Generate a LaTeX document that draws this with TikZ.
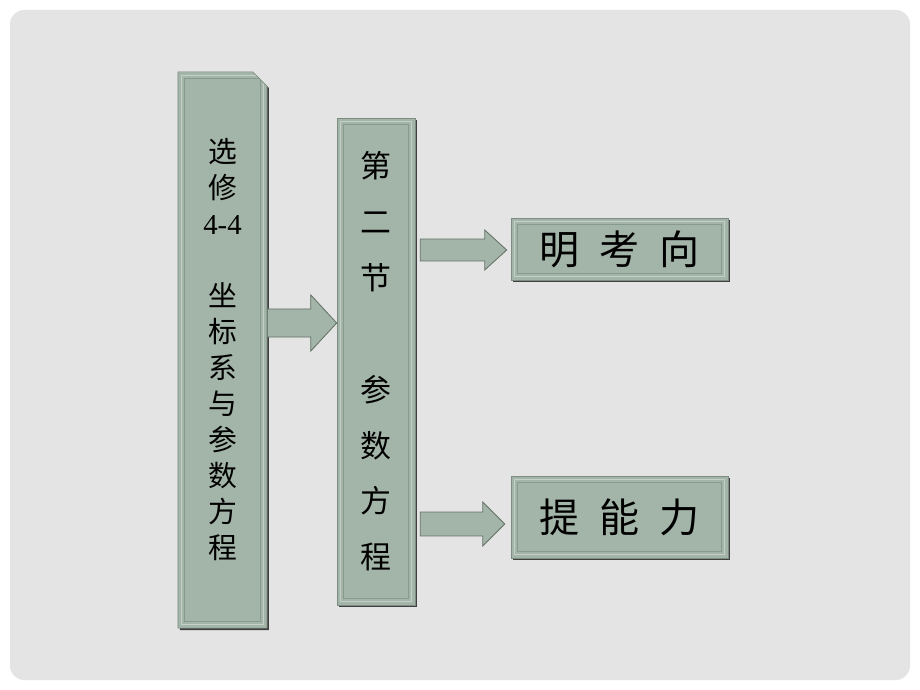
\documentclass[tikz,border=0pt]{standalone}
\usepackage{fontspec}
\setmainfont{Liberation Serif}
\newfontfamily\cjk{Noto Sans CJK SC}
\usetikzlibrary{calc,shapes.misc,shadows}
\definecolor{sage}{HTML}{A3B4A8}
\definecolor{sagelight}{HTML}{C4D0C7}
\definecolor{sagedark}{HTML}{7D8D81}
\definecolor{slidebg}{HTML}{E4E4E4}
\tikzset{
  panel/.style={fill=sage, draw=sagedark, line width=0.4pt, inner sep=0pt, align=center,
    drop shadow={shadow xshift=1.4pt, shadow yshift=-1.4pt, fill=black!75, opacity=1},
    path picture={
      \draw[sagelight, line width=1pt] ([shift={(2.5pt,-2.5pt)}]path picture bounding box.north west)
        rectangle ([shift={(-2.5pt,2.5pt)}]path picture bounding box.south east);
      \draw[sagedark!70!sage, line width=0.6pt] ([shift={(4.5pt,-4.5pt)}]path picture bounding box.north west)
        rectangle ([shift={(-4.5pt,4.5pt)}]path picture bounding box.south east);}},
  arrowbody/.style={fill=sage, draw=sagedark!80!black, line width=0.6pt, line join=miter}
}
\newcommand\blockarrow[5]{%
  \draw[arrowbody] let \p1=#1, \p2=#2 in
    (\x1,\y1+#3) -- (\x2-#5,\y1+#3) -- (\x2-#5,\y1+#4) -- (\x2,\y1)
    -- (\x2-#5,\y1-#4) -- (\x2-#5,\y1-#3) -- (\x1,\y1-#3) -- cycle;}
\begin{document}
\begin{tikzpicture}[x=0.025cm,y=-0.025cm]
\useasboundingbox (0,0) rectangle (920,690);
\fill[white] (0,0) rectangle (920,690);
\fill[slidebg, rounded corners=10pt] (10,10) rectangle (910,680);

\node[panel, chamfered rectangle, chamfered rectangle corners=north east, chamfered rectangle xsep=7pt,
  minimum width=2.225cm, minimum height=13.9cm,
  font={\cjk\fontsize{20.5pt}{25.6pt}\selectfont}] (xuanxiu) at (222.5,350)
  {选\\修\\{\rmfamily 4-4}\\\mbox{}\\坐\\标\\系\\与\\参\\数\\方\\程};
\node[panel, minimum width=1.95cm, minimum height=12.175cm,
  font={\cjk\fontsize{22pt}{39.7pt}\selectfont}] (dierjie) at (376,361.5)
  {第\\二\\节\\\mbox{}\\参\\数\\方\\程};
\node[panel, minimum width=5.425cm, minimum height=1.55cm,
  font={\cjk\fontsize{28.5pt}{30pt}\selectfont}] (mingkao) at (619.5,249)
  {明\hspace{0.5em}考\hspace{0.5em}向};
\node[panel, minimum width=5.425cm, minimum height=2.05cm,
  font={\cjk\fontsize{28.5pt}{30pt}\selectfont}] (nengli) at (619.5,517)
  {提\hspace{0.5em}能\hspace{0.5em}力};

\coordinate (a1) at (0,323);
\blockarrow{(xuanxiu.east |- a1)}{(dierjie.west |- a1)}{10pt}{20pt}{18.5pt}
\blockarrow{($(dierjie.east |- mingkao)+(5,1)$)}{($(mingkao.west)+(-4,1)$)}{7.8pt}{14.2pt}{15.6pt}
\blockarrow{($(dierjie.east |- nengli)+(5,7)$)}{($(nengli.west)+(-6,7)$)}{8.5pt}{15.6pt}{15.6pt}
\end{tikzpicture}
\end{document}
